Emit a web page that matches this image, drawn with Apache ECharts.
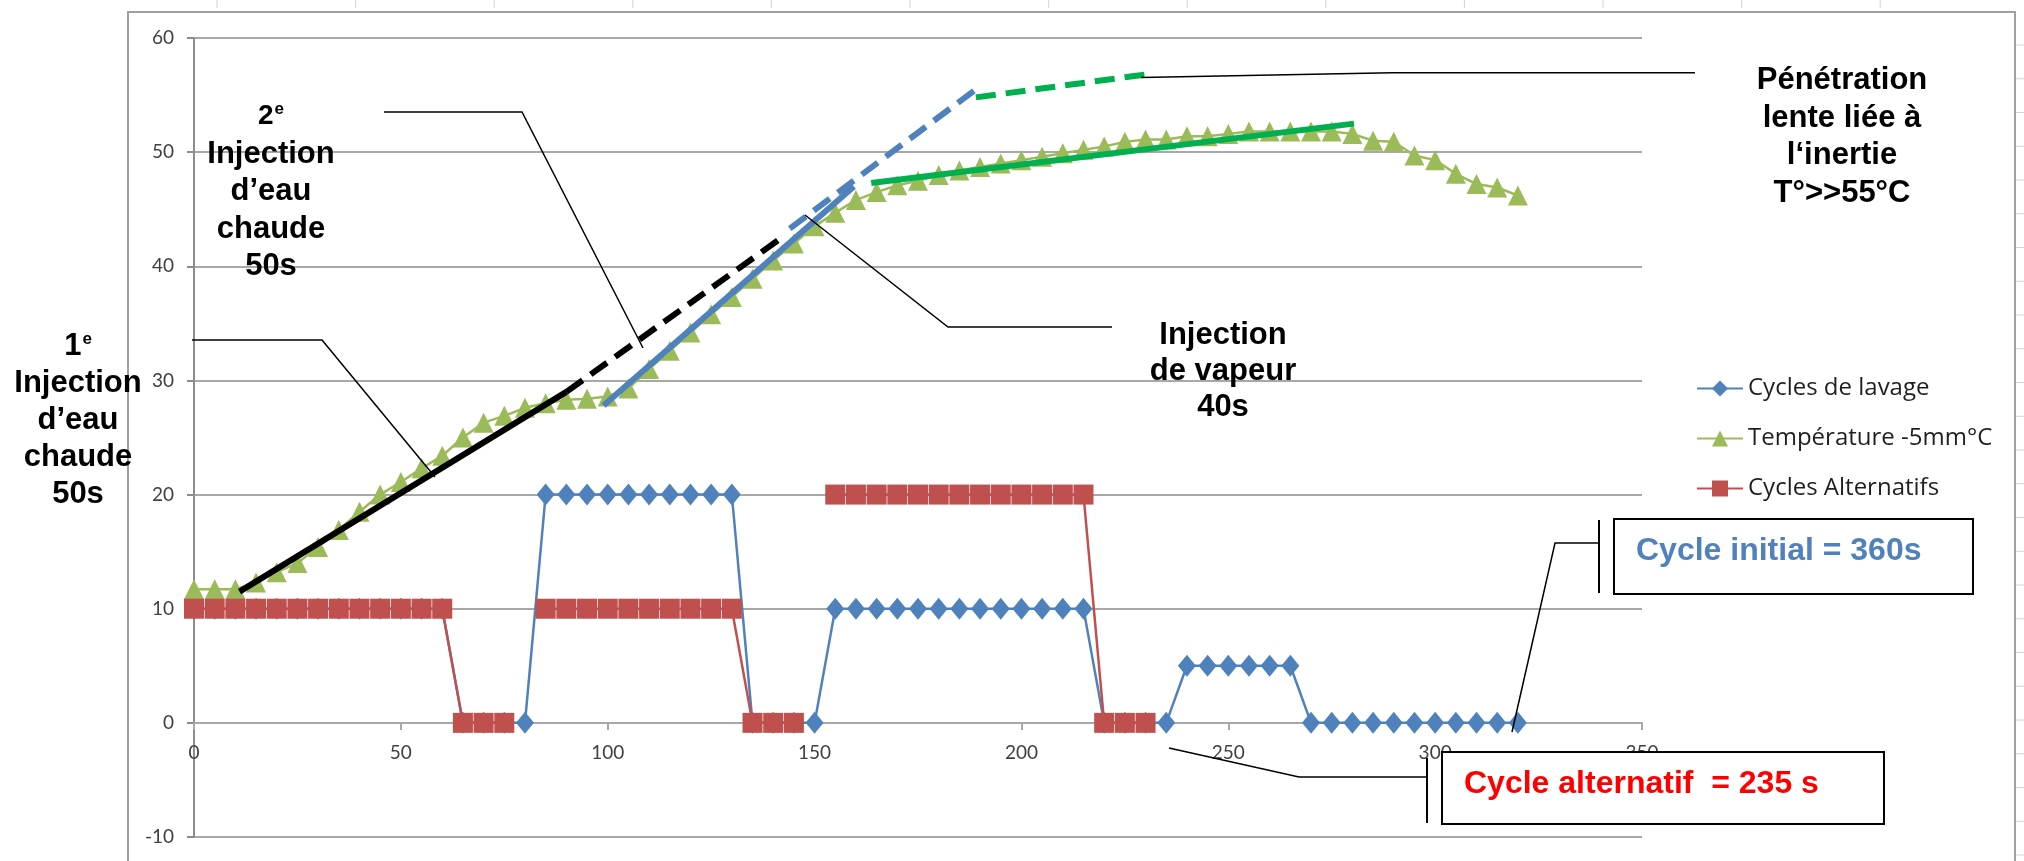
<!DOCTYPE html>
<html>
<head>
<meta charset="utf-8">
<style>
  html, body { margin: 0; padding: 0; background: #fff; }
  #chart { width: 2024px; height: 861px; }
</style>
<script src="https://cdn.jsdelivr.net/npm/echarts@6/dist/echarts.min.js"></script>
</head>
<body>
<div id="chart"></div>
<script>
// temps (s) - un point toutes les 5 s
var seconds = [0, 5, 10, 15, 20, 25, 30, 35, 40, 45, 50, 55, 60, 65, 70, 75, 80, 85, 90, 95,
  100, 105, 110, 115, 120, 125, 130, 135, 140, 145, 150, 155, 160, 165, 170, 175, 180, 185, 190, 195,
  200, 205, 210, 215, 220, 225, 230, 235, 240, 245, 250, 255, 260, 265, 270, 275, 280, 285, 290, 295,
  300, 305, 310, 315, 320];

var lavage = [10, 10, 10, 10, 10, 10, 10, 10, 10, 10, 10, 10, 10, 0, 0, 0, 0, 20, 20, 20,
  20, 20, 20, 20, 20, 20, 20, 0, 0, 0, 0, 10, 10, 10, 10, 10, 10, 10, 10, 10,
  10, 10, 10, 10, 0, 0, 0, 0, 5, 5, 5, 5, 5, 5, 0, 0, 0, 0, 0, 0,
  0, 0, 0, 0, 0];

var temperature = [11.7, 11.7, 11.7, 12.3, 13.2, 14.0, 15.4, 16.9, 18.5, 20.0, 21.1, 22.3, 23.4, 25.0, 26.3, 26.9, 27.6, 28.0, 28.3, 28.4,
  28.6, 29.3, 31.0, 32.6, 34.2, 35.8, 37.3, 38.9, 40.5, 42.0, 43.5, 44.7, 45.8, 46.5, 47.1, 47.5, 48.0, 48.4, 48.7, 49.0,
  49.3, 49.6, 49.9, 50.2, 50.5, 50.9, 51.1, 51.1, 51.4, 51.4, 51.6, 51.8, 51.8, 51.8, 51.8, 51.8, 51.6, 51.0, 50.9, 49.7,
  49.3, 48.1, 47.2, 46.9, 46.2];

var alternatifs = [10, 10, 10, 10, 10, 10, 10, 10, 10, 10, 10, 10, 10, 0, 0, 0, null, 10, 10, 10,
  10, 10, 10, 10, 10, 10, 10, 0, 0, 0, null, 20, 20, 20, 20, 20, 20, 20, 20, 20,
  20, 20, 20, 20, 0, 0, 0];

// droites de tendance tracées à la main sur le graphique [s, °C]
var trendEau1 = [[11, 11.5], [90, 29]];
var trendEau2 = [[90, 29], [142.4, 42.6]];
var trendVapeur = [[99, 27.8], [159.5, 47.0]];
var trendVapeurProj = [[144, 43.3], [188.6, 55.4]];
var trendInertie = [[163.7, 47.3], [280.4, 52.5]];
var trendInertieProj = [[189, 54.8], [232, 56.9]];

var legendNames = ['Cycles de lavage', 'Température -5mm°C', 'Cycles Alternatifs'];

function pairs(xs, ys) {
  return ys.map(function(v, i) { return [xs[i], v]; });
}

var blue = '#4F81BD', green = '#9BBB59', red = '#C0504D', bright = '#00B050';
var grey = '#a8a8a8';
var annFont = '"Liberation Sans", Arial, sans-serif';

function trend(data, color, dashed) {
  return {
    type: 'line', data: data, symbol: 'none', z: 10, silent: true,
    lineStyle: { color: color, width: 6, type: dashed ? [20, 10] : 'solid', cap: 'butt' }
  };
}

function leader(points) {
  return { type: 'polyline', z: 100, silent: true,
    shape: { points: points },
    style: { stroke: '#000', lineWidth: 1.5, fill: null } };
}

function block(x, y, text, lh) {
  return { type: 'text', x: x, y: y, z: 101, silent: true,
    style: {
      text: text, align: 'center', verticalAlign: 'top',
      fontFamily: annFont, fontWeight: 'bold', fontSize: 31, lineHeight: lh, fill: '#000',
      rich: {
        n: { fontFamily: annFont, fontWeight: 'bold', fontSize: 28, lineHeight: lh, fill: '#000' },
        s: { fontFamily: annFont, fontWeight: 'bold', fontSize: 17, lineHeight: lh, fill: '#000', verticalAlign: 'top', padding: [3, 0, 0, 1] },
        t: { fontFamily: annFont, fontWeight: 'bold', fontSize: 31, lineHeight: lh, fill: '#000' }
      }
    } };
}

// décor : cadre du graphique Excel et lignes de la feuille
var overlay = [
  { type: 'polyline', z: 0, silent: true,
    shape: { points: [[128, 861], [128, 12], [2015, 12], [2015, 861]] },
    style: { stroke: '#a0a0a0', lineWidth: 2, fill: null } }
];
for (var cx = 217; cx < 2015; cx += 138.6) {
  overlay.push({ type: 'line', z: 0, silent: true, shape: { x1: cx, y1: 0, x2: cx, y2: 8 },
    style: { stroke: '#d4d4d4', lineWidth: 1 } });
}
for (var ry = 45; ry < 861; ry += 33.75) {
  overlay.push({ type: 'line', z: 0, silent: true, shape: { x1: 2016, y1: ry, x2: 2024, y2: ry },
    style: { stroke: '#d4d4d4', lineWidth: 1 } });
}

overlay.push(
  block(78, 328, '{t|1}{s|e}\nInjection\nd’eau\nchaude\n50s', 37),
  block(271, 98, '{n|2}{s|e}\nInjection\nd’eau\nchaude\n50s', 37.5),
  block(1223, 317, 'Injection\nde vapeur\n40s', 36),
  block(1842, 62, 'Pénétration\nlente liée à\nl‘inertie\nT°>>55°C', 37.5),
  leader([[192, 340], [322, 340], [435, 477]]),
  leader([[384, 112], [522, 112], [643, 348]]),
  leader([[805, 215], [948, 327], [1112, 327]]),
  leader([[1141, 77.5], [1392, 72.7], [1695, 72.7]]),
  leader([[1169, 748], [1299, 777], [1427, 777]]),
  leader([[1512, 732], [1555, 543], [1599, 543]]),
  { type: 'line', z: 100, silent: true, shape: { x1: 1427, y1: 758, x2: 1427, y2: 823 },
    style: { stroke: '#000', lineWidth: 2 } },
  { type: 'line', z: 100, silent: true, shape: { x1: 1599, y1: 520, x2: 1599, y2: 593 },
    style: { stroke: '#000', lineWidth: 2 } },
  { type: 'rect', z: 100, silent: true, shape: { x: 1614, y: 519, width: 359, height: 75 },
    style: { fill: '#fff', stroke: '#000', lineWidth: 2 } },
  { type: 'text', z: 101, silent: true, x: 1636, y: 551,
    style: { text: 'Cycle initial = 360s', fill: blue, fontFamily: annFont, fontWeight: 'bold', fontSize: 32, verticalAlign: 'middle' } },
  { type: 'rect', z: 100, silent: true, shape: { x: 1442, y: 752, width: 442, height: 72 },
    style: { fill: '#fff', stroke: '#000', lineWidth: 2 } },
  { type: 'text', z: 101, silent: true, x: 1464, y: 784,
    style: { text: 'Cycle alternatif  = 235 s', fill: '#FF0000', fontFamily: annFont, fontWeight: 'bold', fontSize: 32, verticalAlign: 'middle' } }
);

var chart = echarts.init(document.getElementById('chart'));
chart.setOption({
  animation: false,
  backgroundColor: '#fff',
  grid: { left: 194, right: 382, top: 38, bottom: 24 },
  legend: {
    data: legendNames,
    orient: 'vertical', left: 1691, top: 371,
    itemWidth: 46, itemHeight: 20, itemGap: 25,
    textStyle: { fontFamily: '"Open Sans"', fontSize: 24, lineHeight: 25, color: '#1f1f1f' }
  },
  xAxis: {
    type: 'value', min: 0, max: 350, interval: 50,
    // l'axe des x croise l'axe des y en 0 (10 unités au-dessus du bas de la grille)
    position: 'bottom', offset: -114,
    axisLine: { onZero: false, lineStyle: { color: grey, width: 2 } },
    axisTick: { show: true, length: 7, lineStyle: { color: grey, width: 2 } },
    axisLabel: { margin: 20, fontFamily: 'Lato', fontSize: 19, color: '#404040' },
    splitLine: { show: false }
  },
  yAxis: {
    type: 'value', min: -10, max: 60, interval: 10,
    axisLine: { show: true, lineStyle: { color: '#8c8c8c', width: 2 } },
    axisTick: { show: true, length: 7, lineStyle: { color: '#8c8c8c', width: 2 } },
    axisLabel: { margin: 20, fontFamily: 'Lato', fontSize: 19, color: '#404040' },
    splitLine: { lineStyle: { color: grey, width: 2 } }
  },
  series: [
    { name: legendNames[0], type: 'line', data: pairs(seconds, lavage), z: 3,
      symbol: 'diamond', symbolSize: [18, 22],
      lineStyle: { color: blue, width: 2.5 }, itemStyle: { color: blue } },
    { name: legendNames[1], type: 'line', data: pairs(seconds, temperature), z: 4,
      symbol: 'triangle', symbolSize: [20, 20],
      lineStyle: { color: green, width: 2.5 }, itemStyle: { color: green } },
    { name: legendNames[2], type: 'line', data: pairs(seconds, alternatifs), z: 5,
      symbol: 'rect', symbolSize: [20, 20],
      lineStyle: { color: red, width: 2.5 }, itemStyle: { color: red } },
    trend(trendEau1, '#000', false),
    trend(trendEau2, '#000', true),
    trend(trendVapeur, blue, false),
    trend(trendVapeurProj, blue, true),
    trend(trendInertie, bright, false),
    trend(trendInertieProj, bright, true)
  ],
  graphic: overlay
});
window.addEventListener('resize', function() { chart.resize(); });
</script>
</body>
</html>
